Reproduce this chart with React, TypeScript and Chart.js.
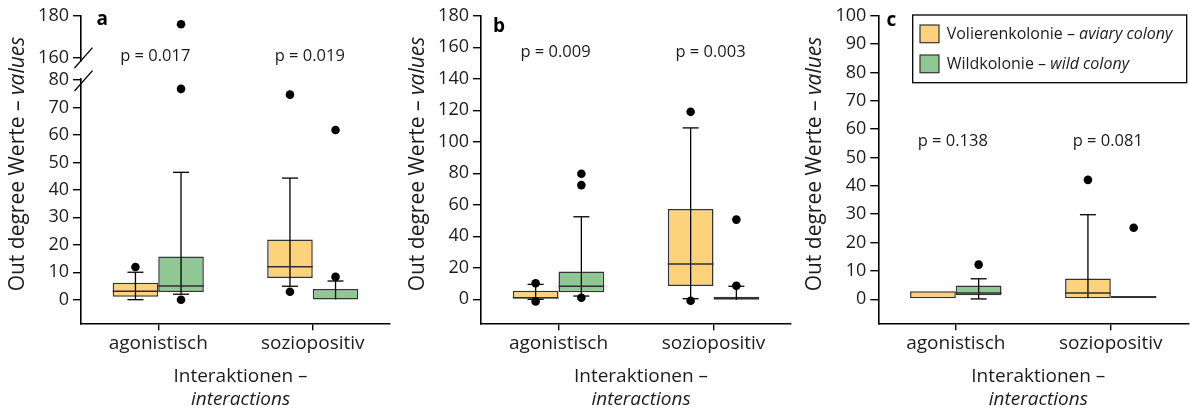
import React, { useEffect, useRef } from 'react';
import { Chart, registerables } from 'chart.js';

Chart.register(...registerables);

const FONT = "'Open Sans', 'Noto Sans', sans-serif";
const TEXT = '#1c1c1c';

// ---------- shared labels ----------
const categories = ['agonistisch', 'soziopositiv'];
const seriesDe = ['Volierenkolonie', 'Wildkolonie'];
const seriesEn = ['aviary colony', 'wild colony'];
const seriesFill = ['#FDD27C', '#8FC795'];
const yTitleDe = 'Out degree Werte – ';
const yTitleEn = 'values';
const xTitleDe = 'Interaktionen –';
const xTitleEn = 'interactions';

// ---------- panel a ----------
const aAviaryQ1 = [1.1, 7.9];
const aAviaryQ3 = [6.2, 21.9];
const aAviaryMedian = [3.1, 12.0];
const aAviaryWhiskerLow = [0, 4.9];
const aAviaryWhiskerHigh = [10, 44.3];
const aAviaryOutliers = [[11.9], [2.9, 74.7]];
const aWildQ1 = [2.8, 0.1];
const aWildQ3 = [15.7, 3.9];
const aWildMedian = [5.0, null];
const aWildWhiskerLow = [2.0, null];
const aWildWhiskerHigh = [46.4, 6.8];
const aWildOutliers = [[0, 76.8, 175.9], [8.3, 61.8]];
const aTicksLow = [0, 10, 20, 30, 40, 50, 60, 70, 80];
const aTicksHigh = [160, 180];
const aPLabels = ['p = 0.017', 'p = 0.019'];
const aPValueY = 160.9;

// ---------- panel b ----------
const bAviaryQ1 = [0.6, 8.5];
const bAviaryQ3 = [5.5, 57.4];
const bAviaryMedian = [1.0, 22.5];
const bAviaryWhiskerLow = [0, 0.4];
const bAviaryWhiskerHigh = [9.5, 108.8];
const bAviaryOutliers = [[10.2, -1.3], [119, -0.9]];
const bWildQ1 = [4.5, -0.3];
const bWildQ3 = [17.6, 1.7];
const bWildMedian = [8.3, null];
const bWildWhiskerLow = [2.1, null];
const bWildWhiskerHigh = [52.4, 8.3];
const bWildOutliers = [[1.0, 72.5, 79.7], [8.6, 50.6]];
const bTicks = [0, 20, 40, 60, 80, 100, 120, 140, 160, 180];
const bPLabels = ['p = 0.009', 'p = 0.003'];
const bPValueY = 156.5;

// ---------- panel c ----------
const cAviaryQ1 = [0.35, 0.35];
const cAviaryQ3 = [2.8, 7.3];
const cAviaryMedian = [null, 2.2];
const cAviaryWhiskerLow = [null, null];
const cAviaryWhiskerHigh = [null, 29.8];
const cAviaryOutliers = [[], [42.1]];
const cWildQ1 = [1.4, 0.3];
const cWildQ3 = [4.8, 1.1];
const cWildMedian = [2.2, null];
const cWildWhiskerLow = [0.1, null];
const cWildWhiskerHigh = [7.2, null];
const cWildOutliers = [[12.2], [25.2]];
const cTicks = [0, 10, 20, 30, 40, 50, 60, 70, 80, 90, 100];
const cPLabels = ['p = 0.138', 'p = 0.081'];
const cPValueY = 55.6;

type Series = {
  q1: number[];
  q3: number[];
  med: (number | null)[];
  lo: (number | null)[];
  hi: (number | null)[];
  out: number[][];
};

type Panel = {
  key: string;
  letter: string;
  letterX: number;
  letterBaseline: number;
  left: number;
  width: number;
  yAxisWidth: number;
  padRight: number;
  yMin: number;
  yMax: number;
  yTicks: number[];
  top?: { min: number; max: number; ticks: number[] };
  pLabels: string[];
  pY: number;
  series: Series[];
  legend: boolean;
  yTitleX: number;
};

const panels: Panel[] = [
  {
    key: 'a', letter: 'a', letterX: 96.5, letterBaseline: 25,
    left: 0, width: 400, yAxisWidth: 81, padRight: 10,
    yMin: -8.6, yMax: 80.3, yTicks: aTicksLow,
    top: { min: 158.5, max: 180, ticks: aTicksHigh },
    pLabels: aPLabels, pY: aPValueY,
    series: [
      { q1: aAviaryQ1, q3: aAviaryQ3, med: aAviaryMedian, lo: aAviaryWhiskerLow, hi: aAviaryWhiskerHigh, out: aAviaryOutliers },
      { q1: aWildQ1, q3: aWildQ3, med: aWildMedian, lo: aWildWhiskerLow, hi: aWildWhiskerHigh, out: aWildOutliers },
    ],
    legend: false, yTitleX: 18.5,
  },
  {
    key: 'b', letter: 'b', letterX: 93, letterBaseline: 31.5,
    left: 400, width: 400, yAxisWidth: 81, padRight: 9,
    yMin: -15.2, yMax: 180, yTicks: bTicks,
    pLabels: bPLabels, pY: bPValueY,
    series: [
      { q1: bAviaryQ1, q3: bAviaryQ3, med: bAviaryMedian, lo: bAviaryWhiskerLow, hi: bAviaryWhiskerHigh, out: bAviaryOutliers },
      { q1: bWildQ1, q3: bWildQ3, med: bWildMedian, lo: bWildWhiskerLow, hi: bWildWhiskerHigh, out: bWildOutliers },
    ],
    legend: false, yTitleX: 18.5,
  },
  {
    key: 'c', letter: 'c', letterX: 96.5, letterBaseline: 26,
    left: 790, width: 400, yAxisWidth: 88.3, padRight: 1.7,
    yMin: -8.5, yMax: 100, yTicks: cTicks,
    pLabels: cPLabels, pY: cPValueY,
    series: [
      { q1: cAviaryQ1, q3: cAviaryQ3, med: cAviaryMedian, lo: cAviaryWhiskerLow, hi: cAviaryWhiskerHigh, out: cAviaryOutliers },
      { q1: cWildQ1, q3: cWildQ3, med: cWildMedian, lo: cWildWhiskerLow, hi: cWildWhiskerHigh, out: cWildOutliers },
    ],
    legend: true, yTitleX: 25,
  },
];

type Part = { text: string; italic?: boolean; bold?: boolean };

function fontOf(p: Part, size: number) {
  return `${p.italic ? 'italic ' : ''}${p.bold ? 'bold ' : ''}${size}px ${FONT}`;
}

function richWidth(ctx: CanvasRenderingContext2D, parts: Part[], size: number) {
  let w = 0;
  parts.forEach((p) => {
    ctx.font = fontOf(p, size);
    w += ctx.measureText(p.text).width;
  });
  return w;
}

function drawRich(ctx: CanvasRenderingContext2D, parts: Part[], x: number, y: number, size: number, align: 'left' | 'center') {
  const total = richWidth(ctx, parts, size);
  let cx = align === 'center' ? x - total / 2 : x;
  ctx.textAlign = 'left';
  ctx.textBaseline = 'middle';
  ctx.fillStyle = TEXT;
  parts.forEach((p) => {
    ctx.font = fontOf(p, size);
    ctx.fillText(p.text, cx, y);
    cx += ctx.measureText(p.text).width;
  });
}

function line(ctx: CanvasRenderingContext2D, x1: number, y1: number, x2: number, y2: number) {
  ctx.beginPath();
  ctx.moveTo(x1, y1);
  ctx.lineTo(x2, y2);
  ctx.stroke();
}

function makePlugin(p: Panel) {
  return {
    id: 'boxExtras' + p.key,
    afterDatasetsDraw(chart: any) {
      const ctx: CanvasRenderingContext2D = chart.ctx;
      const ys = chart.scales.y;
      const yt = chart.scales.yTop;
      const pix = (v: number) => (yt && v > p.yMax ? yt.getPixelForValue(v) : ys.getPixelForValue(v));
      const cap = 16;
      p.series.forEach((s, di) => {
        const meta = chart.getDatasetMeta(di);
        meta.data.forEach((el: any, i: number) => {
          const x = el.x;
          const w = el.width;
          ctx.save();
          ctx.strokeStyle = '#000';
          ctx.lineWidth = 1.3;
          const lo = s.lo[i];
          const hi = s.hi[i];
          if (lo != null || hi != null) {
            const a = lo != null ? lo : s.q1[i];
            const b = hi != null ? hi : s.q3[i];
            line(ctx, x, pix(a), x, pix(b));
            if (lo != null) line(ctx, x - cap / 2, pix(lo), x + cap / 2, pix(lo));
            if (hi != null) line(ctx, x - cap / 2, pix(hi), x + cap / 2, pix(hi));
          }
          const m = s.med[i];
          if (m != null) {
            ctx.strokeStyle = '#2e2e2e';
            ctx.lineWidth = 1.5;
            line(ctx, x - w / 2, pix(m), x + w / 2, pix(m));
          }
          ctx.fillStyle = '#000';
          s.out[i].forEach((v) => {
            ctx.beginPath();
            ctx.arc(x, pix(v), 4.3, 0, Math.PI * 2);
            ctx.fill();
          });
          ctx.restore();
        });
      });
    },
    afterDraw(chart: any) {
      const ctx: CanvasRenderingContext2D = chart.ctx;
      const area = chart.chartArea;
      const ys = chart.scales.y;
      const yt = chart.scales.yTop;
      const xs = chart.scales.x;
      ctx.save();
      // y title
      ctx.save();
      ctx.translate(p.yTitleX, 164);
      ctx.rotate(-Math.PI / 2);
      drawRich(ctx, [{ text: yTitleDe }, { text: yTitleEn, italic: true }], 0, 0, 21, 'center');
      ctx.restore();
      // x title
      const cx = (area.left + area.right) / 2 + 5;
      drawRich(ctx, [{ text: xTitleDe }], cx, 377, 19, 'center');
      drawRich(ctx, [{ text: xTitleEn, italic: true }], cx, 400, 19, 'center');
      // panel letter
      ctx.font = `bold 19px ${FONT}`;
      ctx.fillStyle = '#000';
      ctx.textAlign = 'left';
      ctx.textBaseline = 'alphabetic';
      ctx.fillText(p.letter, p.letterX, p.letterBaseline);
      // p values
      const pScale = yt && p.pY > p.yMax ? yt : ys;
      p.pLabels.forEach((t, i) => {
        drawRich(ctx, [{ text: t }], xs.getPixelForValue(i) - 3, pScale.getPixelForValue(p.pY), 16.5, 'center');
      });
      // axis break
      if (yt) {
        ctx.strokeStyle = '#000';
        ctx.lineWidth = 1.3;
        const L = area.left;
        const c1 = yt.bottom - 3;
        const c2 = ys.top + 1.5;
        [c1, c2].forEach((c) => line(ctx, L - 6.5, c + 10.2, L + 11.5, c - 10.2));
      }
      // legend
      if (p.legend) {
        const bx = area.left + 34.4;
        const by = 15;
        ctx.strokeStyle = '#000';
        ctx.lineWidth = 1.3;
        ctx.strokeRect(bx, by, 274, 67.7);
        [0, 1].forEach((k) => {
          const sy = 25 + k * 30;
          ctx.fillStyle = seriesFill[k];
          ctx.fillRect(bx + 7.3, sy, 19, 17.7);
          ctx.strokeStyle = '#333';
          ctx.lineWidth = 1.2;
          ctx.strokeRect(bx + 7.3, sy, 19, 17.7);
          drawRich(ctx, [{ text: seriesDe[k] + ' – ' }, { text: seriesEn[k], italic: true }], bx + 34, sy + 9, 16, 'left');
        });
      }
      ctx.restore();
    },
  };
}

function yAxis(p: Panel, min: number, max: number, ticks: number[], extra: any) {
  return {
    type: 'linear',
    position: 'left',
    min,
    max,
    grid: { drawOnChartArea: false, drawTicks: true, tickLength: 8, color: '#000', lineWidth: 1.4 },
    border: { display: true, color: '#000', width: 1.6 },
    ticks: { color: TEXT, font: { family: FONT, size: 18 }, padding: 4, autoSkip: false },
    afterBuildTicks: (s: any) => {
      s.ticks = ticks.map((v) => ({ value: v }));
    },
    afterFit: (s: any) => {
      s.width = p.yAxisWidth;
    },
    ...extra,
  };
}

function buildConfig(p: Panel): any {
  const scales: any = {
    x: {
      type: 'category',
      labels: categories,
      offset: true,
      grid: { offset: false, drawOnChartArea: false, drawTicks: true, tickLength: 7, color: '#000', lineWidth: 1.4 },
      border: { display: true, color: '#000', width: 1.6 },
      ticks: { color: TEXT, font: { family: FONT, size: 19 }, padding: 2, maxRotation: 0, autoSkip: false },
      afterFit: (s: any) => {
        s.height = 414 - 323.3;
      },
    },
  };
  if (p.top) {
    const totalH = 323.3 - 15.7;
    const topH = (p.top.max - p.top.min) * 2.1;
    const lowH = (p.yMax - p.yMin) * 2.745;
    const gapH = totalH - topH - lowH;
    scales.yTop = yAxis(p, p.top.min, p.top.max, p.top.ticks, { stack: 'brk', stackWeight: topH, weight: 3 });
    scales.yGap = {
      type: 'linear', position: 'left', min: 0, max: 1, stack: 'brk', stackWeight: gapH, weight: 2,
      ticks: { display: false }, grid: { display: false }, border: { display: false },
      afterFit: (s: any) => { s.width = p.yAxisWidth; },
    };
    scales.y = yAxis(p, p.yMin, p.yMax, p.yTicks, { stack: 'brk', stackWeight: lowH, weight: 1 });
  } else {
    scales.y = yAxis(p, p.yMin, p.yMax, p.yTicks, {});
  }
  return {
    type: 'bar',
    data: {
      labels: categories,
      datasets: p.series.map((s, k) => ({
        label: seriesDe[k],
        data: s.q1.map((v, i) => [v, s.q3[i]]),
        backgroundColor: seriesFill[k],
        borderColor: '#333',
        borderWidth: 1.5,
        borderSkipped: false,
        categoryPercentage: 0.59,
        barPercentage: 1,
        xAxisID: 'x',
        yAxisID: 'y',
      })),
    },
    options: {
      animation: false,
      responsive: true,
      maintainAspectRatio: false,
      layout: { padding: { top: 15.7, right: p.padRight, bottom: 0, left: 0 } },
      plugins: { legend: { display: false }, tooltip: { enabled: false }, title: { display: false } },
      scales,
    },
    plugins: [makePlugin(p)],
  };
}

function PanelChart({ p }: { p: Panel }) {
  const ref = useRef<HTMLCanvasElement | null>(null);
  useEffect(() => {
    if (!ref.current) return;
    const chart = new Chart(ref.current, buildConfig(p));
    return () => chart.destroy();
  }, [p]);
  return (
    <div style={{ position: 'absolute', left: p.left, top: 0, width: p.width, height: 414 }}>
      <canvas ref={ref} />
    </div>
  );
}

export default function App() {
  return (
    <div style={{ position: 'fixed', left: 0, top: 0, width: 1190, height: 414, background: '#fff', overflow: 'hidden' }}>
      {panels.map((p) => (
        <PanelChart key={p.key} p={p} />
      ))}
    </div>
  );
}
